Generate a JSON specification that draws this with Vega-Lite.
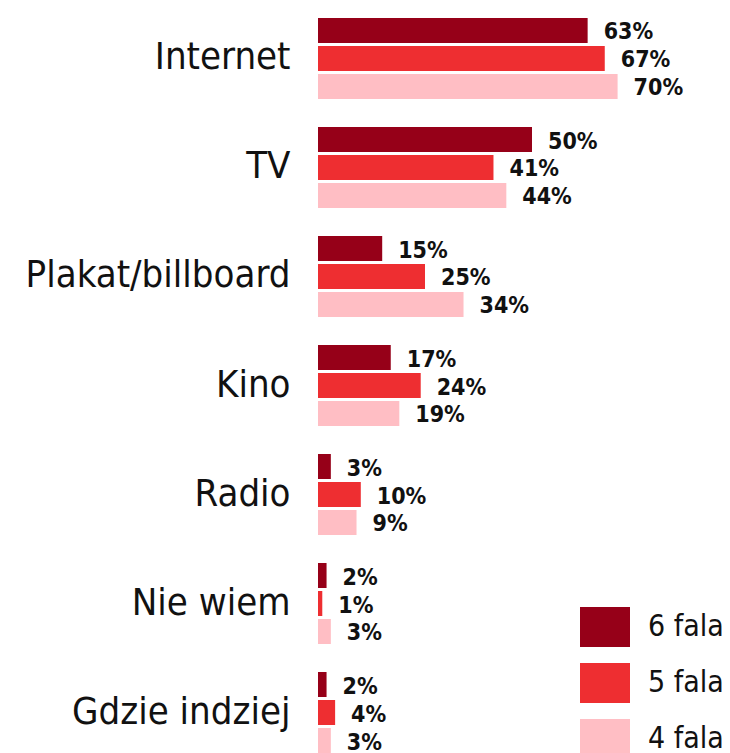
{
  "$schema": "https://vega.github.io/schema/vega-lite/v6.json",
  "width": 412,
  "height": 735,
  "autosize": {"type": "none"},
  "padding": {"left": 318, "top": 18, "right": 0, "bottom": 0},
  "background": "white",
  "config": {
    "view": {"stroke": null},
    "font": "DejaVu Sans"
  },
  "data": {
    "values": [
      {"kanal": "Internet", "fala": "6 fala", "v": 0.63},
      {"kanal": "Internet", "fala": "5 fala", "v": 0.67},
      {"kanal": "Internet", "fala": "4 fala", "v": 0.70},
      {"kanal": "TV", "fala": "6 fala", "v": 0.50},
      {"kanal": "TV", "fala": "5 fala", "v": 0.41},
      {"kanal": "TV", "fala": "4 fala", "v": 0.44},
      {"kanal": "Plakat/billboard", "fala": "6 fala", "v": 0.15},
      {"kanal": "Plakat/billboard", "fala": "5 fala", "v": 0.25},
      {"kanal": "Plakat/billboard", "fala": "4 fala", "v": 0.34},
      {"kanal": "Kino", "fala": "6 fala", "v": 0.17},
      {"kanal": "Kino", "fala": "5 fala", "v": 0.24},
      {"kanal": "Kino", "fala": "4 fala", "v": 0.19},
      {"kanal": "Radio", "fala": "6 fala", "v": 0.03},
      {"kanal": "Radio", "fala": "5 fala", "v": 0.10},
      {"kanal": "Radio", "fala": "4 fala", "v": 0.09},
      {"kanal": "Nie wiem", "fala": "6 fala", "v": 0.02},
      {"kanal": "Nie wiem", "fala": "5 fala", "v": 0.01},
      {"kanal": "Nie wiem", "fala": "4 fala", "v": 0.03},
      {"kanal": "Gdzie indziej", "fala": "6 fala", "v": 0.02},
      {"kanal": "Gdzie indziej", "fala": "5 fala", "v": 0.04},
      {"kanal": "Gdzie indziej", "fala": "4 fala", "v": 0.03}
    ]
  },
  "encoding": {
    "y": {
      "field": "kanal",
      "type": "nominal",
      "sort": ["Internet", "TV", "Plakat/billboard", "Kino", "Radio", "Nie wiem", "Gdzie indziej"],
      "scale": {"paddingInner": 0.257, "paddingOuter": 0},
      "axis": {
        "title": null,
        "domain": false,
        "ticks": false,
        "labelPadding": 28,
        "labelFontSize": 38,
        "labelColor": "#111111",
        "labelFont": "DejaVu Sans Condensed",
        "labelLimit": 400
      }
    },
    "yOffset": {
      "field": "fala",
      "type": "nominal",
      "sort": ["6 fala", "5 fala", "4 fala"],
      "scale": {"paddingInner": 0.107, "paddingOuter": 0}
    },
    "x": {
      "field": "v",
      "type": "quantitative",
      "scale": {"domain": [0, 1], "range": [0, 428]},
      "axis": null
    }
  },
  "layer": [
    {
      "mark": {"type": "bar"},
      "encoding": {
        "color": {
          "field": "fala",
          "type": "nominal",
          "scale": {"domain": ["6 fala", "5 fala", "4 fala"], "range": ["#960018", "#EE2E31", "#FFBEC4"]},
          "legend": {
            "title": null,
            "orient": "none",
            "legendX": 267,
            "legendY": 589,
            "padding": 0,
            "symbolType": "M-1.25,-1H1.25V1H-1.25Z",
            "symbolSize": 1600,
            "symbolStrokeWidth": 0,
            "symbolOpacity": 1,
            "labelFontSize": 30,
            "labelFont": "DejaVu Sans Condensed",
            "labelColor": "#111111",
            "labelOffset": 23,
            "rowPadding": 16,
            "labelLimit": 300
          }
        }
      }
    },
    {
      "mark": {"type": "text", "align": "left", "baseline": "middle", "dx": 16, "dy": 2, "fontSize": 23, "fontWeight": "bold", "color": "#111111", "font": "DejaVu Sans Condensed"},
      "encoding": {
        "text": {"field": "v", "type": "quantitative", "format": ".0%"}
      }
    }
  ]
}
